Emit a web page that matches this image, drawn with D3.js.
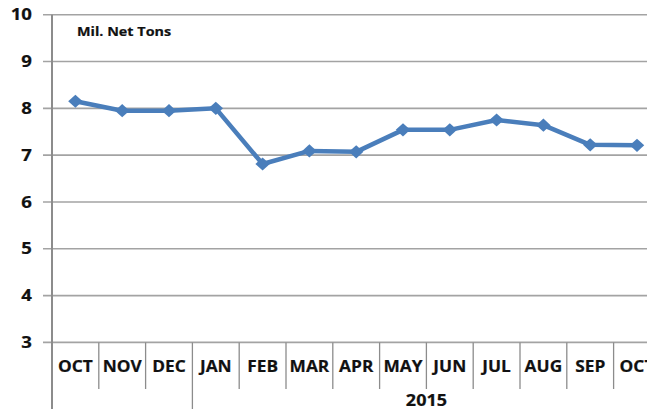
<!DOCTYPE html>
<html><head><meta charset="utf-8">
<script src="https://cdn.jsdelivr.net/npm/d3@7/dist/d3.min.js"></script>
<style>html,body{margin:0;padding:0;background:#fff;overflow:hidden}</style>
</head><body>
<svg id="c" width="647" height="409"></svg>
<script>
const categories = ["OCT","NOV","DEC","JAN","FEB","MAR","APR","MAY","JUN","JUL","AUG","SEP","OCT"];
const values = [8.15, 7.95, 7.95, 8.0, 6.81, 7.09, 7.07, 7.54, 7.54, 7.75, 7.64, 7.22, 7.21];
const yTicks = [3,4,5,6,7,8,9,10];
const yearLabel = "2015";
const yearStart = 3;
const unitLabel = "Mil. Net Tons";

(function () {
const svg = d3.select("#c");
const plotLeft = 52, bandW = 46.8, plotTop = 14.7, plotBottom = 342.4;
const x = d3.scaleBand().domain(d3.range(categories.length)).range([plotLeft, plotLeft + bandW*categories.length]).padding(0);
const y = d3.scaleLinear().domain([3,10]).range([plotBottom, plotTop]);
const grid = "#a3a3a3", axisC = "#8c8c8c", txt = "#111";
const font = "'Open Sans', sans-serif";

function stext(g, xx, yy, s, size, anchor, sx) {
  return g.append("text").attr("transform", `translate(${xx},${yy}) scale(${sx},1)`)
    .attr("text-anchor", anchor).attr("font-family", font).attr("font-weight", 700)
    .attr("font-size", size).attr("fill", txt).attr("stroke", txt).attr("stroke-width", 0.2).text(s);
}

svg.append("g").selectAll("line").data(yTicks).join("line")
  .attr("x1", 43).attr("x2", 647).attr("y1", d => y(d)).attr("y2", d => y(d))
  .attr("stroke", grid).attr("stroke-width", 1.6);

yTicks.forEach(t => stext(svg, 32, y(t) + 5.6, String(t), 15.5, "end", 1.2));

svg.append("line").attr("x1", plotLeft).attr("x2", plotLeft).attr("y1", plotTop).attr("y2", 409)
  .attr("stroke", axisC).attr("stroke-width", 2);

d3.range(1, categories.length).forEach(i => {
  const xx = x(i);
  svg.append("line").attr("x1", xx).attr("x2", xx).attr("y1", plotBottom)
    .attr("y2", i === yearStart ? 409 : 389).attr("stroke", axisC).attr("stroke-width", 1.3);
});

categories.forEach((c, i) => stext(svg, x(i) + bandW/2, 372, c, 16.5, "middle", 1.05));

const yx = (x(yearStart) + x(categories.length-1) + bandW) / 2;
stext(svg, yx, 405.5, yearLabel, 15.5, "middle", 1.16);

stext(svg, 77, 36, unitLabel, 12.5, "start", 1.15);

const line = d3.line().x((d,i) => x(i) + bandW/2).y(d => y(d));
svg.append("path").datum(values).attr("d", line).attr("fill", "none")
  .attr("stroke", "#4a7ebb").attr("stroke-width", 4.5).attr("stroke-linejoin", "round");

svg.append("g").selectAll("path").data(values).join("path")
  .attr("d", d3.symbol().type(d3.symbolDiamond2).size(110))
  .attr("transform", (d,i) => `translate(${x(i)+bandW/2},${y(d)}) scale(1.1,1)`)
  .attr("fill", "#4a7ebb");
})();
</script>
</body></html>
